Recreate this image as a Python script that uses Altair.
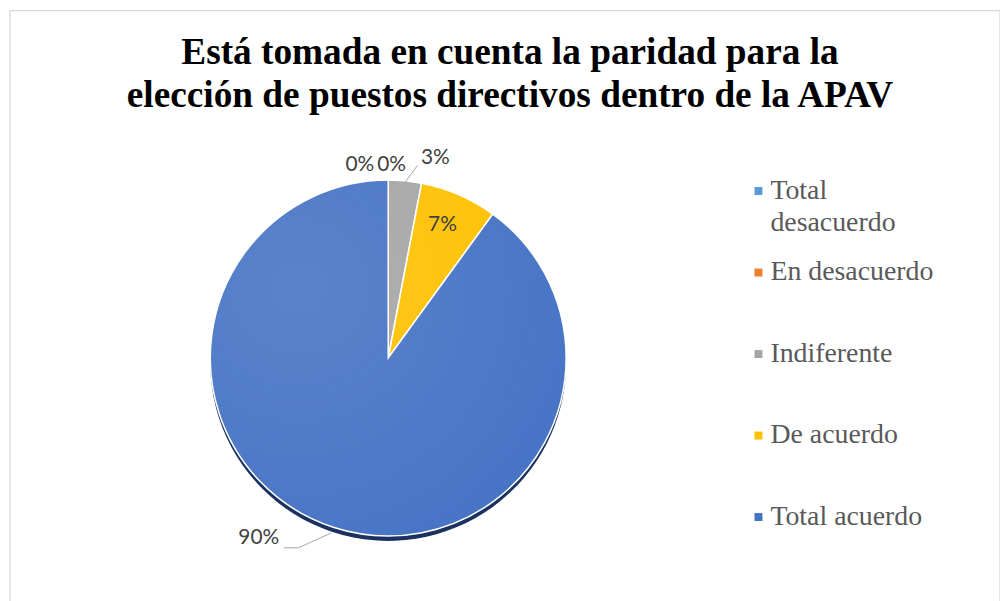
import math
import altair as alt
import pandas as pd

# ---- data ----
categories = ["Total desacuerdo", "En desacuerdo", "Indiferente", "De acuerdo", "Total acuerdo"]
legend_labels = ["Total\ndesacuerdo", "En desacuerdo", "Indiferente", "De acuerdo", "Total acuerdo"]
values = [0, 0, 3, 7, 90]
pct_labels = ["0%", "0%", "3%", "7%", "90%"]
colors = ["#5B9BD5", "#ED7D31", "#A5A5A5", "#FFC000", "#4472C4"]
title_lines = ["Está tomada en cuenta la paridad para la",
               "elección de puestos directivos dentro de la APAV"]

df = pd.DataFrame({
    "idx": list(range(len(categories))),
    "cat": categories,
    "legend": legend_labels,
    "value": values,
    "label": pct_labels,
})

# ---- geometry / style ----
W, H = 761, 700          # pie centre sits at (W/2, H/2)
CX, CY = W / 2, H / 2
R = 179
TOTAL_W = 996
SERIF = "'Liberation Serif', 'Times New Roman', 'DejaVu Serif', serif"

color_scale = alt.Scale(domain=categories, range=colors)
theta_scale = alt.Scale(domain=[0, sum(values)], range=[0, 2 * math.pi])

base = alt.Chart(df)

shadow = base.mark_arc(radius=R, yOffset=5, color="#1B3260").encode(
    theta=alt.Theta("value:Q", stack=True, scale=theta_scale),
    order=alt.Order("idx:Q"),
)

pie = base.mark_arc(radius=R, stroke="white", strokeWidth=1.5).encode(
    theta=alt.Theta("value:Q", stack=True, scale=theta_scale),
    color=alt.Color("cat:N", scale=color_scale, legend=None),
    order=alt.Order("idx:Q"),
)

shine = alt.Chart(pd.DataFrame({"a": [0]})).mark_arc(
    radius=R, theta=0, theta2=2 * math.pi,
    fill=alt.Gradient(
        gradient="radial",
        stops=[alt.GradientStop(offset=0, color="rgba(255,255,255,0.12)"),
               alt.GradientStop(offset=1, color="rgba(255,255,255,0)")],
        x1=0.25, y1=0.3, r1=0, x2=0.25, y2=0.3, r2=0.95,
    ),
).encode(x=alt.value(CX), y=alt.value(CY))

# percent labels (radius, dx, dy per slice)
label_pos = {
    0: (194, -28.5, 0),
    1: (194, 3.5, 0),
    2: (206, 28, 4),
    3: (145, -3, -1),
    4: (224, -61, -32),
}
label_layers = []
for i, (rad, dx, dy) in label_pos.items():
    label_layers.append(
        base.transform_window(cum="sum(value)", sort=[alt.SortField("idx")])
        .transform_calculate(mid="datum.cum - datum.value / 2")
        .transform_filter(alt.datum.idx == i)
        .mark_text(radius=rad, dx=dx, dy=dy, font="Lato", fontSize=21,
                   color="#404040", align="center", baseline="middle")
        .encode(theta=alt.Theta("mid:Q", stack=False, scale=theta_scale),
                text="label:N")
    )

# leader lines derived from slice mid-angles
def polar(share_mid, rad):
    a = share_mid / sum(values) * 2 * math.pi
    return CX + rad * math.sin(a), CY - rad * math.cos(a)

cum = 0
mids = []
for v in values:
    mids.append(cum + v / 2)
    cum += v

p_in = polar(mids[2], 177)
p_out = polar(mids[2] + 0.9, 196)
p_in90 = polar(mids[4], 185)
p_elb = (p_in90[0] - 33, p_in90[1] + 15)
p_end = (p_elb[0] - 15, p_elb[1])
lines_df = pd.DataFrame({
    "line": ["a", "a", "b", "b", "b"],
    "o": [0, 1, 0, 1, 2],
    "x": [p_in[0], p_out[0], p_in90[0], p_elb[0], p_end[0]],
    "y": [p_in[1], p_out[1], p_in90[1], p_elb[1], p_end[1]],
})
leaders = alt.Chart(lines_df).mark_line(color="#A6A6A6", strokeWidth=1).encode(
    x=alt.X("x:Q", scale=None, axis=None),
    y=alt.Y("y:Q", scale=None, axis=None),
    detail="line:N",
    order="o:Q",
)

# legend
legend_y = alt.Y("idx:Q", scale=alt.Scale(domain=[0, 4], range=[182, 510]), axis=None)
leg_sq = base.mark_square(size=64, opacity=1).encode(
    x=alt.value(753),
    y=legend_y,
    color=alt.Color("cat:N", scale=color_scale, legend=None),
)
leg_txt = base.mark_text(
    align="left", baseline="alphabetic", dy=8, font=SERIF,
    fontSize=28, color="#595959", lineBreak="\n", lineHeight=32,
).encode(x=alt.value(765), y=legend_y, text="legend:N")

# title
title = alt.Chart(pd.DataFrame({"t": ["\n".join(title_lines)]})).mark_text(
    align="center", baseline="alphabetic", font=SERIF,
    fontSize=37.5, fontWeight="bold", color="#000000", lineBreak="\n", lineHeight=43,
).encode(x=alt.value(503), y=alt.value(54.3), text="t:N")

# outer frame
frame = alt.Chart(pd.DataFrame({"a": [0]})).mark_rect(
    fill="transparent", stroke="#D9D9D9", strokeWidth=1.3
).encode(x=alt.value(0), x2=alt.value(TOTAL_W), y=alt.value(0.5), y2=alt.value(H + 5))

chart = alt.layer(
    frame, shadow, pie, shine, leaders, *label_layers, leg_sq, leg_txt, title
).resolve_scale(
    x="independent", y="independent", theta="independent"
).properties(
    width=W, height=H,
    autosize=alt.AutoSizeParams(type="none"),
    padding={"left": 2, "top": 0, "right": TOTAL_W - W, "bottom": 0},
    background="white",
).configure_view(stroke=None)

chart.save("out.html", embed_options={"renderer": "svg", "actions": False})
